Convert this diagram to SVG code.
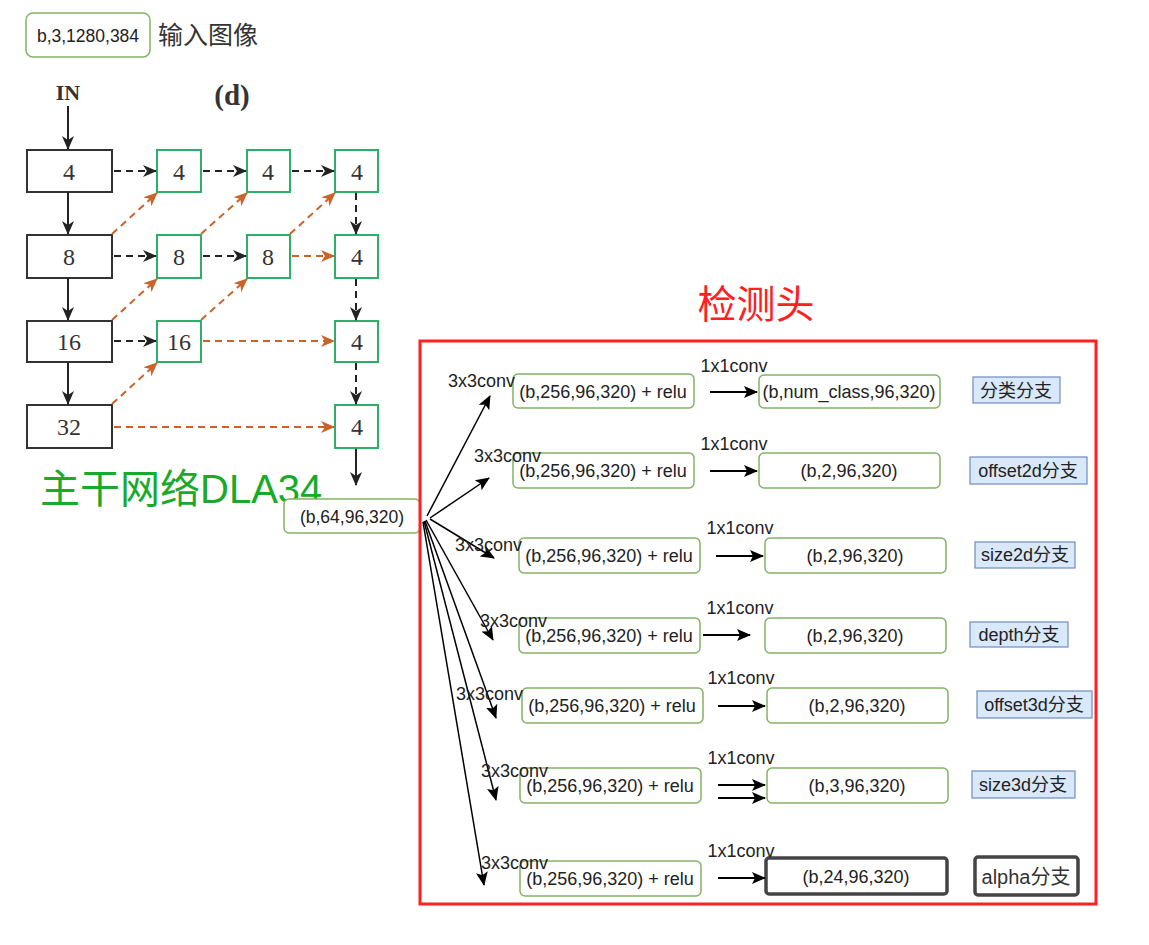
<svg xmlns="http://www.w3.org/2000/svg" width="1149" height="945" viewBox="0 0 1149 945">
<defs>
<style>
.t{font-family:"Liberation Sans",Arial,"Noto Sans CJK SC",sans-serif;fill:#222;}
.s{font-family:"Liberation Serif","Times New Roman",serif;fill:#333;font-size:24px;text-anchor:middle;}
.gb{fill:#fff;stroke:#82b366;stroke-width:1.5;}
.bb{fill:#fff;stroke:#333;stroke-width:2;}
.gn{fill:#fff;stroke:#2fae6a;stroke-width:2;}
.lb{fill:#dae8fc;stroke:#6c8ebf;stroke-width:1.2;}
.dk{fill:#fff;stroke:#444;stroke-width:3.5;}
.k{stroke:#222;stroke-width:2;fill:none;}
.kd{stroke:#222;stroke-width:2;fill:none;stroke-dasharray:7,5;}
.od{stroke:#c8632a;stroke-width:2;fill:none;stroke-dasharray:7,5;}
.f{stroke:#000;stroke-width:1.5;fill:none;marker-end:url(#fa);}
.r{stroke:#000;stroke-width:2;fill:none;marker-end:url(#ra);}
</style>
<marker id="ka" markerUnits="userSpaceOnUse" markerWidth="14" markerHeight="12" refX="13" refY="6" orient="auto"><path d="M0,0 L14,6 L0,12 L4,6 z" fill="#222"/></marker>
<marker id="oa" markerUnits="userSpaceOnUse" markerWidth="14" markerHeight="12" refX="13" refY="6" orient="auto"><path d="M0,0 L14,6 L0,12 L4,6 z" fill="#c8632a"/></marker>
<marker id="fa" markerUnits="userSpaceOnUse" markerWidth="14" markerHeight="12" refX="13" refY="6" orient="auto"><path d="M0,0 L14,6 L0,12 L3,6 z" fill="#000"/></marker>
<marker id="ra" markerUnits="userSpaceOnUse" markerWidth="14" markerHeight="12" refX="13" refY="6" orient="auto"><path d="M0,0 L14,6 L0,12 L3,6 z" fill="#000"/></marker>
</defs>
<rect width="1149" height="945" fill="#fff"/>

<g id="input">
<rect class="gb" x="26" y="13" width="124" height="44" rx="7"/>
<text class="t" x="88" y="42" font-size="17.5" text-anchor="middle">b,3,1280,384</text>
<text class="t" x="158" y="44" font-size="25" style="fill:#333">输入图像</text>
</g>

<g id="dla-labels">
<text class="s" x="68" y="100" style="font-size:22px;font-weight:bold">IN</text>
<text class="s" x="232" y="105" style="font-size:29px;font-weight:bold">(d)</text>
</g>

<g id="dla-nodes">
<g id="b4"><rect class="bb" x="27" y="150" width="85" height="42"/><text class="s" x="69" y="180">4</text></g>
<g id="b8"><rect class="bb" x="27" y="235" width="85" height="43"/><text class="s" x="69" y="265">8</text></g>
<g id="b16"><rect class="bb" x="27" y="321" width="85" height="41"/><text class="s" x="69" y="350">16</text></g>
<g id="b32"><rect class="bb" x="27" y="405" width="85" height="43"/><text class="s" x="69" y="435">32</text></g>
<g id="g21"><rect class="gn" x="157" y="150" width="44" height="42"/><text class="s" x="179" y="180">4</text></g>
<g id="g22"><rect class="gn" x="157" y="235" width="44" height="43"/><text class="s" x="179" y="265">8</text></g>
<g id="g23"><rect class="gn" x="157" y="321" width="44" height="41"/><text class="s" x="179" y="350">16</text></g>
<g id="g31"><rect class="gn" x="247" y="150" width="43" height="42"/><text class="s" x="268" y="180">4</text></g>
<g id="g32"><rect class="gn" x="247" y="235" width="43" height="43"/><text class="s" x="268" y="265">8</text></g>
<g id="g41"><rect class="gn" x="335" y="150" width="43" height="42"/><text class="s" x="357" y="180">4</text></g>
<g id="g42"><rect class="gn" x="335" y="235" width="43" height="43"/><text class="s" x="357" y="265">4</text></g>
<g id="g43"><rect class="gn" x="335" y="321" width="43" height="41"/><text class="s" x="357" y="350">4</text></g>
<g id="g44"><rect class="gn" x="335" y="405" width="43" height="43"/><text class="s" x="357" y="435">4</text></g>
</g>

<g id="dla-connectors">
<line class="k" x1="68" y1="106" x2="68" y2="149" marker-end="url(#ka)"/>
<line class="k" x1="68" y1="192" x2="68" y2="234" marker-end="url(#ka)"/>
<line class="k" x1="68" y1="278" x2="68" y2="320" marker-end="url(#ka)"/>
<line class="k" x1="68" y1="362" x2="68" y2="404" marker-end="url(#ka)"/>
<line class="kd" x1="114" y1="171" x2="156" y2="171" marker-end="url(#ka)"/>
<line class="kd" x1="203" y1="171" x2="246" y2="171" marker-end="url(#ka)"/>
<line class="kd" x1="292" y1="171" x2="334" y2="171" marker-end="url(#ka)"/>
<line class="kd" x1="114" y1="256" x2="156" y2="256" marker-end="url(#ka)"/>
<line class="kd" x1="203" y1="256" x2="246" y2="256" marker-end="url(#ka)"/>
<line class="kd" x1="114" y1="341" x2="156" y2="341" marker-end="url(#ka)"/>
<line class="od" x1="292" y1="256" x2="334" y2="256" marker-end="url(#oa)"/>
<line class="od" x1="203" y1="341" x2="334" y2="341" marker-end="url(#oa)"/>
<line class="od" x1="114" y1="427" x2="334" y2="427" marker-end="url(#oa)"/>
<line class="od" x1="112" y1="234" x2="157" y2="193" marker-end="url(#oa)"/>
<line class="od" x1="201" y1="234" x2="247" y2="193" marker-end="url(#oa)"/>
<line class="od" x1="290" y1="234" x2="335" y2="193" marker-end="url(#oa)"/>
<line class="od" x1="112" y1="320" x2="157" y2="279" marker-end="url(#oa)"/>
<line class="od" x1="201" y1="320" x2="247" y2="279" marker-end="url(#oa)"/>
<line class="od" x1="112" y1="404" x2="157" y2="363" marker-end="url(#oa)"/>
<line class="kd" x1="356" y1="193" x2="356" y2="234" marker-end="url(#ka)"/>
<line class="kd" x1="356" y1="279" x2="356" y2="320" marker-end="url(#ka)"/>
<line class="kd" x1="356" y1="363" x2="356" y2="404" marker-end="url(#ka)"/>
<line class="k" x1="356" y1="449" x2="356" y2="485" marker-end="url(#ka)"/>
</g>

<g id="backbone-label">
<text x="40" y="503" font-family="'Liberation Sans',Arial,'Noto Sans CJK SC',sans-serif" font-size="40" fill="#1aaa2a">主干网络DLA34</text>
</g>

<g id="feat">
<rect class="gb" x="284" y="499" width="136" height="34" rx="5"/>
<text class="t" x="352" y="523" font-size="17.5" text-anchor="middle">(b,64,96,320)</text>
</g>

<g id="head-title">
<text x="756" y="318" font-family="'Liberation Sans',Arial,'Noto Sans CJK SC',sans-serif" font-size="39" fill="#ff2020" text-anchor="middle">检测头</text>
</g>
<g id="head-frame">
<rect x="420" y="341" width="676" height="563" fill="none" stroke="#ff2020" stroke-width="3"/>
</g>

<g id="head-nodes" class="t" font-size="18">
<g id="row1">
<rect class="gb" x="513" y="374" width="181" height="34" rx="5"/>
<text x="603" y="398" text-anchor="middle">(b,256,96,320) + relu</text>
<rect class="gb" x="759" y="375" width="181" height="33" rx="5"/>
<text x="849" y="398" text-anchor="middle">(b,num_class,96,320)</text>
<rect class="lb" x="973" y="377" width="87" height="26"/>
<text x="1016" y="397" text-anchor="middle">分类分支</text>
</g>
<g id="row2">
<rect class="gb" x="513" y="453" width="181" height="35" rx="5"/>
<text x="603" y="477" text-anchor="middle">(b,256,96,320) + relu</text>
<rect class="gb" x="759" y="453" width="181" height="35" rx="5"/>
<text x="849" y="477" text-anchor="middle">(b,2,96,320)</text>
<rect class="lb" x="970" y="457" width="117" height="27"/>
<text x="1028" y="477" text-anchor="middle">offset2d分支</text>
</g>
<g id="row3">
<rect class="gb" x="519" y="538" width="181" height="35" rx="5"/>
<text x="609" y="562" text-anchor="middle">(b,256,96,320) + relu</text>
<rect class="gb" x="765" y="538" width="181" height="35" rx="5"/>
<text x="855" y="562" text-anchor="middle">(b,2,96,320)</text>
<rect class="lb" x="975" y="542" width="100" height="26"/>
<text x="1025" y="561" text-anchor="middle">size2d分支</text>
</g>
<g id="row4">
<rect class="gb" x="519" y="618" width="181" height="35" rx="5"/>
<text x="609" y="642" text-anchor="middle">(b,256,96,320) + relu</text>
<rect class="gb" x="765" y="618" width="181" height="35" rx="5"/>
<text x="855" y="642" text-anchor="middle">(b,2,96,320)</text>
<rect class="lb" x="970" y="622" width="98" height="25"/>
<text x="1019" y="641" text-anchor="middle">depth分支</text>
</g>
<g id="row5">
<rect class="gb" x="522" y="688" width="181" height="35" rx="5"/>
<text x="612" y="712" text-anchor="middle">(b,256,96,320) + relu</text>
<rect class="gb" x="767" y="688" width="181" height="35" rx="5"/>
<text x="857" y="712" text-anchor="middle">(b,2,96,320)</text>
<rect class="lb" x="977" y="691" width="115" height="27"/>
<text x="1034" y="711" text-anchor="middle">offset3d分支</text>
</g>
<g id="row6">
<rect class="gb" x="520" y="768" width="181" height="35" rx="5"/>
<text x="610" y="792" text-anchor="middle">(b,256,96,320) + relu</text>
<rect class="gb" x="767" y="768" width="181" height="35" rx="5"/>
<text x="857" y="792" text-anchor="middle">(b,3,96,320)</text>
<rect class="lb" x="972" y="771" width="103" height="27"/>
<text x="1023" y="791" text-anchor="middle">size3d分支</text>
</g>
<g id="row7">
<rect class="gb" x="520" y="861" width="181" height="35" rx="5"/>
<text x="610" y="885" text-anchor="middle">(b,256,96,320) + relu</text>
<rect class="dk" x="766" y="858" width="181" height="36" rx="3"/>
<text x="856" y="883" text-anchor="middle">(b,24,96,320)</text>
<rect class="dk" x="975" y="857" width="103" height="38" rx="3"/>
<text x="1026" y="884" text-anchor="middle" font-size="20" style="fill:#333">alpha分支</text>
</g>
</g>

<g id="head-connectors">
<line class="f" x1="427" y1="516" x2="490" y2="396"/>
<line class="f" x1="430" y1="518" x2="489" y2="478"/>
<line class="f" x1="430" y1="519" x2="494" y2="558"/>
<line class="f" x1="426" y1="520" x2="493" y2="640"/>
<line class="f" x1="425" y1="521" x2="496" y2="718"/>
<line class="f" x1="424" y1="521" x2="496" y2="800"/>
<line class="f" x1="423" y1="522" x2="484" y2="885"/>
<line class="r" x1="710" y1="392" x2="757" y2="392"/>
<line class="r" x1="710" y1="471" x2="757" y2="471"/>
<line class="r" x1="716" y1="556" x2="763" y2="556"/>
<line class="r" x1="703" y1="635" x2="750" y2="635"/>
<line class="r" x1="718" y1="706" x2="765" y2="706"/>
<line class="r" x1="718" y1="785" x2="765" y2="785"/>
<line class="r" x1="718" y1="798" x2="765" y2="798"/>
<line class="r" x1="718" y1="878" x2="765" y2="878"/>
</g>

<g id="conv-labels" class="t" font-size="18">
<text x="448" y="387">3x3conv</text>
<text x="474" y="462">3x3conv</text>
<text x="455" y="551">3x3conv</text>
<text x="480" y="627">3x3conv</text>
<text x="456" y="700">3x3conv</text>
<text x="481" y="777">3x3conv</text>
<text x="481" y="869">3x3conv</text>
<text x="734" y="372" text-anchor="middle">1x1conv</text>
<text x="734" y="450" text-anchor="middle">1x1conv</text>
<text x="740" y="534" text-anchor="middle">1x1conv</text>
<text x="740" y="614" text-anchor="middle">1x1conv</text>
<text x="741" y="684" text-anchor="middle">1x1conv</text>
<text x="741" y="764" text-anchor="middle">1x1conv</text>
<text x="741" y="857" text-anchor="middle">1x1conv</text>
</g>
</svg>
